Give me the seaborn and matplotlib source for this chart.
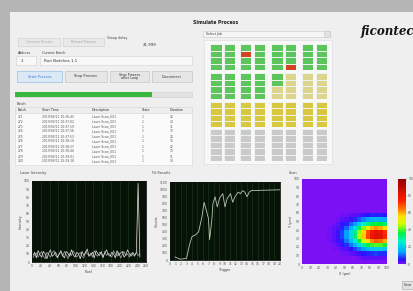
import numpy as np
import pandas as pd
import matplotlib
matplotlib.use("Agg")
import matplotlib.pyplot as plt
import seaborn as sns
from matplotlib.colors import ListedColormap, LinearSegmentedColormap
from matplotlib.patches import Rectangle

# ---------------- data ----------------
laser_a = [8, 12, 5, 14, 9, 6, 13, 10, 4, 11, 15, 7, 9, 12, 6, 10, 14, 8, 5, 13,
           11, 7, 15, 9, 6, 12, 10, 4, 13, 8, 11, 16, 7, 9, 12, 5, 14, 10, 8, 13,
           6, 11, 15, 9, 7, 12, 10, 5, 14, 8, 11, 13, 6, 9, 15, 10, 7, 12, 8, 12,
           97, 6]
laser_b = [5, 9, 11, 6, 10, 13, 7, 4, 12, 9, 6, 11, 14, 8, 5, 10, 12, 7, 13, 9,
           4, 11, 8, 14, 10, 6, 9, 12, 7, 5, 13, 10, 8, 11, 6, 14, 9, 7, 12, 10,
           5, 13, 8, 11, 9, 6, 14, 10, 7, 12, 5, 9, 13, 8, 10, 6, 11, 9, 7, 12,
           8, 10]
laser_pixel = [2, 6, 10, 14, 18, 22, 26, 30, 34, 38, 42, 46, 50, 54, 58, 62, 66, 70,
               74, 78, 82, 86, 90, 94, 98, 102, 106, 110, 114, 118, 122, 126, 130,
               134, 138, 142, 146, 150, 154, 158, 162, 166, 170, 174, 178, 182, 186,
               190, 194, 198, 202, 206, 210, 214, 218, 222, 226, 230, 234, 238, 242,
               246]

fit_iter = [0.9, 1.8, 3.0, 3.6, 4.0, 4.6, 5.2, 5.8, 6.2, 6.6, 7.0, 7.2, 7.6, 7.8,
            8.2, 8.6, 9.0, 9.6, 10.0, 10.4, 11.0, 11.4, 11.8, 12.4, 12.8, 13.2,
            13.6, 14.0, 14.4, 14.8, 20.0]
fit_value = [44, 11, 22, 231, 330, 352, 396, 605, 814, 704, 583, 286, 561, 792,
             891, 748, 869, 935, 748, 869, 935, 814, 891, 957, 935, 979, 957, 891,
             957, 979, 990]

scan_intensity = [
    [0] * 20, [0] * 20, [0] * 20, [0] * 20, [0] * 20, [0] * 20, [0] * 20, [0] * 20,
    [0, 0, 0, 0, 0, 0, 0, 0, 0, 1, 1, 2, 2, 3, 4, 5, 6, 6, 6, 5],
    [0, 0, 0, 0, 0, 0, 0, 0, 1, 2, 3, 4, 7, 9, 12, 14, 16, 17, 16, 15],
    [0, 0, 0, 0, 0, 0, 0, 1, 2, 4, 6, 10, 14, 20, 26, 31, 35, 37, 36, 33],
    [0, 0, 0, 0, 0, 0, 1, 2, 3, 6, 10, 16, 24, 34, 43, 52, 59, 62, 60, 55],
    [0, 0, 0, 0, 0, 0, 1, 2, 4, 8, 14, 22, 32, 44, 57, 69, 77, 81, 80, 73],
    [0, 0, 0, 0, 0, 0, 1, 2, 4, 8, 14, 22, 33, 45, 58, 70, 79, 83, 81, 74],
    [0, 0, 0, 0, 0, 0, 1, 2, 4, 6, 11, 18, 26, 36, 47, 56, 63, 67, 65, 60],
    [0, 0, 0, 0, 0, 0, 0, 1, 2, 4, 7, 11, 16, 22, 29, 35, 39, 41, 40, 37],
    [0, 0, 0, 0, 0, 0, 0, 1, 1, 2, 3, 5, 8, 11, 14, 17, 19, 20, 20, 18],
    [0, 0, 0, 0, 0, 0, 0, 0, 0, 1, 1, 2, 3, 4, 5, 6, 7, 8, 7, 7],
    [0, 0, 0, 0, 0, 0, 0, 0, 0, 0, 0, 0, 0, 1, 2, 2, 2, 2, 2, 2],
    [0] * 20,
]
scan_x_labels = ["0", "10", "20", "30", "40", "50", "60", "70", "80", "90", "100"]
scan_y_labels = ["100", "90", "80", "70", "60", "50", "40", "30", "20", "10", "0"]
cbar_ticks = [0, 20, 40, 60, 80, 100]

# process state grid: 0 idle (gray), 1 queued (pale), 2 pending (yellow), 3 done (green), 4 error (red)
grid_block1 = [[3, 3, 3, 3, 3, 3, 3, 3],
               [3, 3, 4, 3, 3, 3, 3, 3],
               [3, 3, 3, 3, 3, 3, 3, 3],
               [3, 3, 3, 3, 3, 4, 3, 3]]
grid_block2 = [[3, 3, 3, 3, 3, 1, 1, 1],
               [3, 3, 3, 3, 3, 1, 1, 1],
               [3, 3, 3, 3, 1, 1, 1, 1],
               [3, 3, 3, 3, 1, 1, 1, 1]]
grid_block3 = [[2, 2, 2, 2, 2, 2, 2, 2],
               [2, 2, 2, 2, 2, 2, 2, 2],
               [2, 2, 2, 2, 2, 2, 2, 2],
               [2, 2, 2, 2, 2, 2, 2, 2]]
grid_block4 = [[0, 0, 0, 0, 0, 0, 0, 0],
               [0, 0, 0, 0, 0, 0, 0, 0],
               [0, 0, 0, 0, 0, 0, 0, 0],
               [0, 0, 0, 0, 0, 0, 0, 0],
               [0, 0, 0, 0, 0, 0, 0, 0]]

batch_ids = ["271", "272", "273", "274", "275", "276", "277", "278", "279", "280"]
start_times = ["2019/04/11 10:36:45", "2019/04/11 10:37:02", "2019/04/11 10:37:19",
               "2019/04/11 10:37:36", "2019/04/11 10:37:53", "2019/04/11 10:38:10",
               "2019/04/11 10:38:27", "2019/04/11 10:38:44", "2019/04/11 10:39:01",
               "2019/04/11 10:39:18"]
descriptions = ["Laser Scan_001"] * 10
states = ["1", "1", "1", "1", "1", "1", "1", "1", "1", "1"]
durations = ["12", "14", "11", "13", "12", "15", "12", "13", "11", "14"]
table_headers = ["Batch", "Start Time", "Description", "State", "Duration"]

# ---------------- figure ----------------
W, H = 414, 291
sns.set_style("white")
plt.rcParams["font.family"] = ["DejaVu Sans"]
fig = plt.figure(figsize=(W / 100, H / 100), dpi=100)
fig.patch.set_facecolor("#b5b5b5")


def fr(x, y, w, h):
    return [x / W, 1 - (y + h) / H, w / W, h / H]


def box(x, y, w, h, fc, ec="none", lw=0.4, z=-0.5):
    fig.add_artist(Rectangle((x / W, 1 - (y + h) / H), w / W, h / H,
                             transform=fig.transFigure, facecolor=fc,
                             edgecolor=ec, linewidth=lw, zorder=z))


def txt(x, y, s, size=2.6, color="#404040", ha="left", **kw):
    fig.text(x / W, 1 - y / H, s, fontsize=size, color=color, ha=ha,
             va="center", **kw)


# main window panel
box(10, 12, 404, 279, "#efefef", z=-1)

# --- top-left controls ---
box(18, 38, 42, 8, "#e9e9e9", "#cdcdcd")
txt(39, 42, "Connect Device", color="#a5a5a5", ha="center", size=2.4)
box(63, 38, 41, 8, "#e9e9e9", "#cdcdcd")
txt(83.5, 42, "Reload Process", color="#a5a5a5", ha="center", size=2.4)
txt(107, 37.5, "Group delay", size=2.4)
txt(143, 45, "21.999", size=2.8, color="#303030")
txt(18, 52.5, "Address", size=2.4)
txt(42, 52.5, "Current Batch", size=2.4)
box(16, 56, 20, 9, "#f8f8f8", "#d2d2d2")
txt(21, 60.5, "1", size=3, color="#303030")
box(40, 56, 152, 9, "#f8f8f8", "#d2d2d2")
txt(44, 60.5, "Run Batches 1.1", size=3, color="#303030")

box(17, 71, 45, 11, "#dbe8f6", "#86b4e2")
txt(39.5, 76.5, "Start Process", color="#3a78c0", ha="center", size=2.5)
box(65, 71, 42, 11, "#e6e6e6", "#bdbdbd")
txt(86, 76.5, "Stop Process", ha="center", size=2.5, color="#303030")
box(110, 71, 39, 11, "#e6e6e6", "#bdbdbd")
txt(129.5, 76.5, "Stop Process\nafter Loop", ha="center", size=2.4,
    color="#303030", linespacing=0.95)
box(152, 71, 40, 11, "#e6e6e6", "#bdbdbd")
txt(172, 76.5, "Disconnect", ha="center", size=2.5, color="#303030")

box(15, 92, 177, 5, "#e2e2e2", "#d0d0d0")
box(15, 92, 137, 5, "#39b83d")

# --- batch table ---
txt(17, 104, "Batch", size=2.4)
box(15, 107, 177, 58, "#fafafa", "#d6d6d6")
box(15, 107, 177, 6, "#eeeeee", "#d6d6d6")
col_x = [18, 42, 92, 142, 170]
for cx, hd in zip(col_x, table_headers):
    txt(cx, 110, hd, size=2.3, color="#303030")
for i in range(len(batch_ids)):
    y = 116.5 + 5 * i
    row = [batch_ids[i], start_times[i], descriptions[i], states[i], durations[i]]
    for cx, val in zip(col_x, row):
        txt(cx, y, val, size=2.2, color="#555555")

# --- simulate process panel ---
txt(193, 22.5, "Simulate Process", size=3.3, color="#202020", weight="bold")
box(203, 31, 127, 6, "#f5f5f5", "#c8c8c8")
txt(206, 34, "Select Job", size=2.3)
box(324, 31, 6, 6, "#e2e2e2", "#c8c8c8")
box(204, 40, 128, 124, "#f8f8f8", "#dadada")

state_cmap = ListedColormap(["#cacaca", "#ddd48e", "#d7c840", "#5cc65c", "#d4431f"])
col_starts = [210, 224, 240, 254, 271, 285, 302, 316]
blocks = [(44, 26, grid_block1), (73, 26, grid_block2),
          (102, 25, grid_block3), (129, 32, grid_block4)]
for by, bh, block in blocks:
    arr = np.array(block)
    for c, cx in enumerate(col_starts):
        gax = fig.add_axes(fr(cx, by, 11.5, bh))
        sns.heatmap(arr[:, [c]], ax=gax, cmap=state_cmap, vmin=-0.5, vmax=4.5,
                    cbar=False, linewidths=0.7, linecolor="#eef2ee",
                    xticklabels=False, yticklabels=False)

# logo
txt(361, 31, "ficontec", size=8.6, color="#141414", style="italic",
    weight="bold", family="DejaVu Serif")

# --- plot titles ---
txt(20, 173, "Laser Intensity", size=2.5)
txt(152, 173, "Fit Results", size=2.5)
txt(289, 173, "Scan", size=2.5)


def dark_axes(ax):
    ax.set_facecolor("#071207")
    ax.grid(axis="x", color="#1e3c1e", lw=0.4)
    ax.grid(axis="y", visible=False)
    for s in ax.spines.values():
        s.set_color("#101010")
        s.set_linewidth(0.6)
    ax.tick_params(labelsize=2.2, length=1, width=0.3, pad=0.6, colors="#505050")


# --- plot 1: laser intensity ---
ax1 = fig.add_axes(fr(32, 181, 114, 81))
sns.lineplot(x=laser_pixel, y=laser_b, ax=ax1, color="#a9a9a9", lw=0.5)
sns.lineplot(x=laser_pixel, y=laser_a, ax=ax1, color="#e4e4e4", lw=0.5)
ax1.set_xlim(0, 260)
ax1.set_ylim(0, 100)
ax1.set_xticks(range(0, 261, 20))
ax1.set_yticks(range(0, 101, 10))
dark_axes(ax1)
ax1.set_xlabel("Pixel", fontsize=2.4, labelpad=1, color="#404040")
ax1.set_ylabel("Intensity", fontsize=2.4, labelpad=1, color="#404040")

# --- plot 2: fit results ---
ax2 = fig.add_axes(fr(170, 182, 110, 78))
sns.lineplot(x=fit_iter, y=fit_value, ax=ax2, color="#b9c6b3", lw=0.6)
ax2.set_xlim(0, 20)
ax2.set_ylim(0, 1100)
ax2.set_xticks(range(0, 21, 1))
ax2.set_yticks(range(0, 1101, 100))
dark_axes(ax2)
ax2.set_xlabel("Trigger", fontsize=2.4, labelpad=1, color="#404040")
ax2.set_ylabel("Counts", fontsize=2.4, labelpad=1, color="#404040")

# --- plot 3: scan heatmap ---
scan_cmap = LinearSegmentedColormap.from_list(
    "scan", [(0.0, "#7c10f5"), (0.05, "#2a10ff"), (0.14, "#00a8ff"),
             (0.26, "#00f0d0"), (0.36, "#00f040"), (0.47, "#d0ff00"),
             (0.56, "#ffe000"), (0.65, "#ff7000"), (0.75, "#ff1a00"),
             (1.0, "#900000")])
ax3 = fig.add_axes(fr(302, 179, 85, 85))
cax = fig.add_axes(fr(398.5, 178.5, 7.5, 85.5))
sns.heatmap(pd.DataFrame(scan_intensity), ax=ax3, cmap=scan_cmap, vmin=0, vmax=100,
            cbar_ax=cax, xticklabels=False, yticklabels=False)
ax3.set_xticks(np.linspace(0, 20, 11))
ax3.set_xticklabels(scan_x_labels)
ax3.set_yticks(np.linspace(0, 20, 11))
ax3.set_yticklabels(scan_y_labels, rotation=0)
ax3.tick_params(labelsize=2.2, length=1, width=0.3, pad=0.6, colors="#505050")
ax3.set_xlabel("X (µm)", fontsize=2.4, labelpad=1, color="#404040")
ax3.set_ylabel("Y (µm)", fontsize=2.4, labelpad=1, color="#404040")
cax.set_yticks(cbar_ticks)
cax.tick_params(labelsize=2.2, length=1, width=0.3, pad=0.6, colors="#505050")

# bottom-right button
box(402, 281, 14, 8, "#e2e2e2", "#a8a8a8")
txt(403.5, 285, "Clear", size=2.3, color="#303030")

fig.savefig("out.png", dpi=100, facecolor=fig.get_facecolor())
